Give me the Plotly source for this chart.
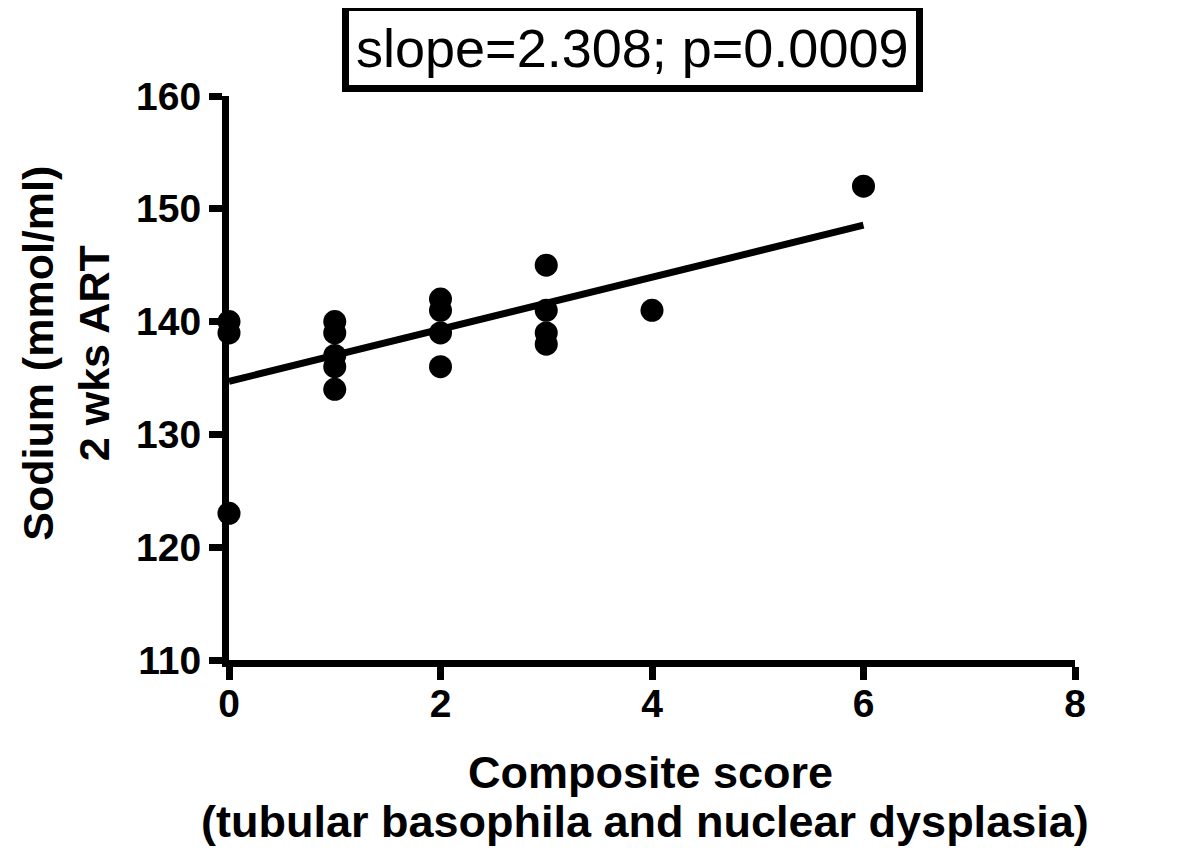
"""Sodium at 2 weeks ART against composite histology score."""
import plotly.graph_objects as go

# composite score (tubular basophilia and nuclear dysplasia) per patient
composite_score = [0, 0, 0, 1, 1, 1, 1, 1, 2, 2, 2, 2, 3, 3, 3, 3, 4, 6]
# serum sodium at 2 weeks ART (mmol/ml)
sodium = [140, 139, 123, 140, 139, 137, 136, 134, 142, 141, 139, 136,
          145, 141, 139, 138, 141, 152]

# reported linear fit
fit_slope = 2.308
fit_intercept = 134.7
fit_p = "0.0009"
fit_x = [min(composite_score), max(composite_score)]

x_ticks = [0, 2, 4, 6, 8]
y_ticks = [110, 120, 130, 140, 150, 160]

FONT = "Arial, 'Liberation Sans', sans-serif"
BLACK = "#000000"

fig = go.Figure()

fig.add_trace(
    go.Scatter(
        x=fit_x,
        y=[fit_intercept + fit_slope * x for x in fit_x],
        mode="lines",
        line={"color": BLACK, "width": 7},
        hoverinfo="skip",
        cliponaxis=False,
    )
)
fig.add_trace(
    go.Scatter(
        x=composite_score,
        y=sodium,
        mode="markers",
        marker={"color": BLACK, "size": 23},
        cliponaxis=False,
    )
)

axis_style = {
    "showline": True,
    "linecolor": BLACK,
    "linewidth": 7,
    "ticks": "outside",
    "ticklen": 13,
    "tickwidth": 7,
    "tickcolor": BLACK,
    "showgrid": False,
    "zeroline": False,
    "tickfont": {"family": FONT, "size": 39, "color": BLACK, "weight": "bold"},
}

fig.update_xaxes(range=[0, 8], tickvals=x_ticks, ticklabelstandoff=-10, **axis_style)
fig.update_yaxes(range=[110, 160], tickvals=y_ticks, **axis_style)

# stats box
fig.add_annotation(
    text=f"slope={fit_slope}; p={fit_p}",
    xref="paper", yref="paper",
    x=0.4775, y=1.085,
    xanchor="center", yanchor="middle",
    showarrow=False,
    font={"family": FONT, "size": 54, "color": BLACK},
    bordercolor=BLACK, borderwidth=7, borderpad=7,
    bgcolor="white",
)

# axis titles
title_font = {"family": FONT, "size": 45, "color": BLACK}
fig.add_annotation(
    text="<b>Composite score</b>",
    xref="paper", yref="paper",
    x=0.498, y=-0.2,
    xanchor="center", yanchor="middle",
    showarrow=False,
    font=title_font,
)
fig.add_annotation(
    text="<b>(tubular basophila and nuclear dysplasia)</b>",
    xref="paper", yref="paper",
    x=0.492, y=-0.287,
    xanchor="center", yanchor="middle",
    showarrow=False,
    font=title_font,
)
fig.add_annotation(
    text="<b>Sodium (mmol/ml)<br>2 wks ART</b>",
    xref="paper", yref="paper",
    x=-0.192, y=0.544,
    xanchor="center", yanchor="middle",
    textangle=-90,
    showarrow=False,
    font={"family": FONT, "size": 43, "color": BLACK},
)

# the html page adds an 8px body margin, so the margins are shifted by 8px
fig.update_layout(
    width=1200,
    height=868,
    margin={"l": 221, "r": 133, "t": 88, "b": 216},
    paper_bgcolor="white",
    plot_bgcolor="white",
    showlegend=False,
)

fig.write_html("out.html")
